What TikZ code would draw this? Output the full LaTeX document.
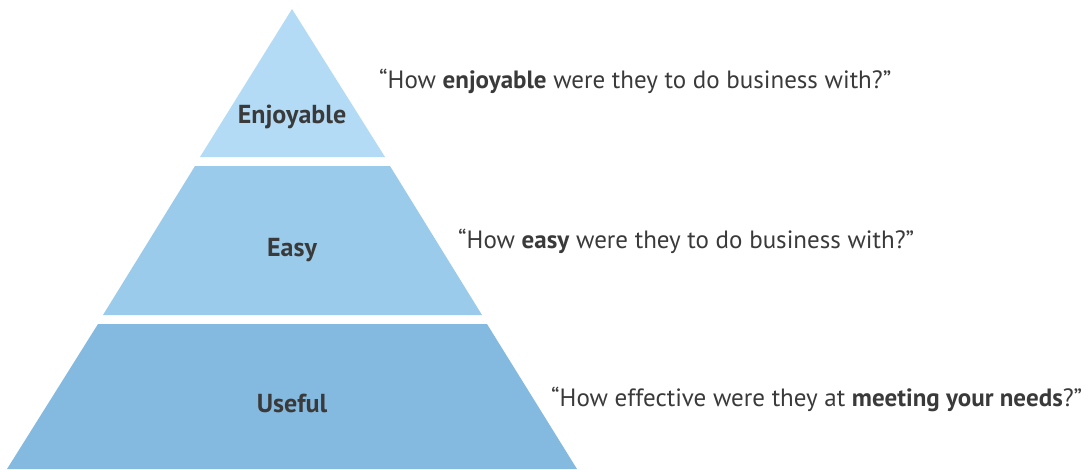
\documentclass[tikz,border=0pt]{standalone}
\usepackage{fontspec}
\setmainfont{PT Sans}
\definecolor{tierA}{HTML}{B3DBF6}
\definecolor{tierB}{HTML}{9BCBEA}
\definecolor{tierC}{HTML}{85BAE0}
\definecolor{txt}{HTML}{3A3A3A}
\tikzset{
  tier/.style={draw=none},
  lab/.style={font=\fontsize{26}{30}\selectfont\bfseries, text=txt, inner sep=0pt},
  quote/.style={font=\fontsize{25}{30}\selectfont, text=txt, inner sep=0pt, anchor=west}
}
\begin{document}
\begin{tikzpicture}[x=1pt,y=-1pt]
\useasboundingbox (0,0) rectangle (1091,469);
% tiers
\fill[tierA] (292,9) -- (385,157) -- (200,157) -- cycle;
\fill[tierB] (195,166) -- (390,166) -- (482,315) -- (103,315) -- cycle;
\fill[tierC] (98,324) -- (487,324) -- (577,469) -- (7,469) -- cycle;
% labels
\node[lab] (l1) at (292,117) {Enjoyable};
\node[lab] (l2) at (292,250) {Easy};
\node[lab] (l3) at (292,403) {Useful};
% quotes
\node[quote] (q1) at (379,81) {“How \textbf{enjoyable} were they to do business with?”};
\node[quote] (q2) at (458,241) {“How \textbf{easy} were they to do business with?”};
\node[quote] (q3) at (551,399) {“How effective were they at \textbf{meeting your needs}?”};
\end{tikzpicture}
\end{document}
